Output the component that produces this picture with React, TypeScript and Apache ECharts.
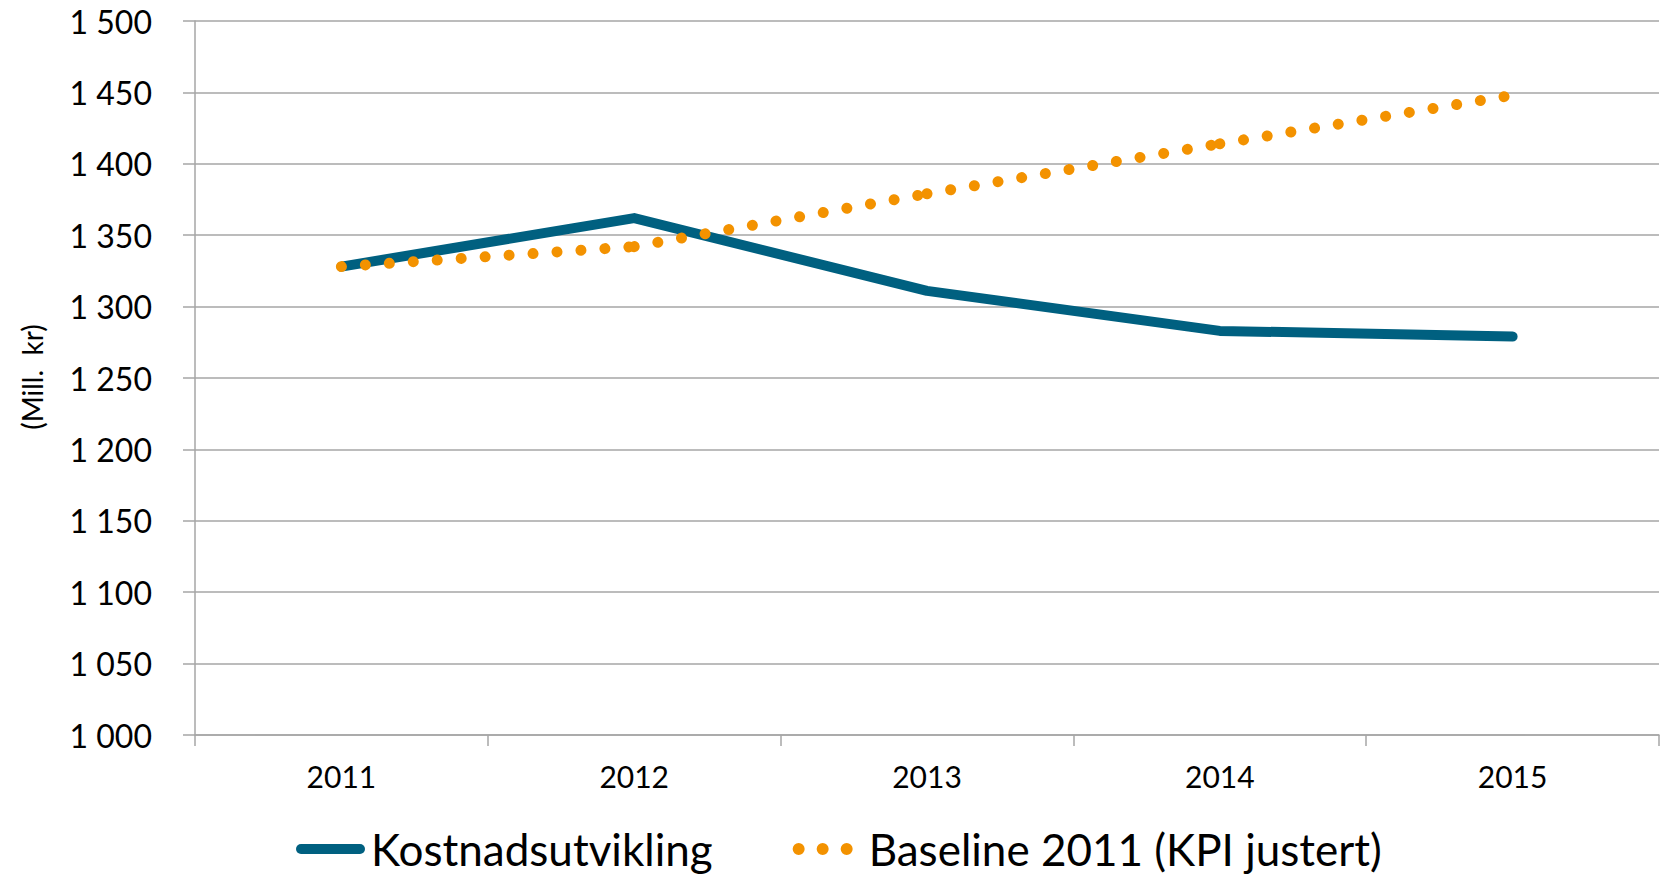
import React, { useEffect, useRef } from "react";
import * as echarts from "echarts";

const years = ["2011", "2012", "2013", "2014", "2015"];
const kostnad = [1328, 1362, 1311, 1283, 1279];
const baseline = [1328, 1342, 1379, 1414, 1448];
const yTicks = { min: 1000, max: 1500, interval: 50 };
const kostnadName = "Kostnadsutvikling";
const baselineName = "Baseline 2011 (KPI justert)";
const yAxisTitle = "(Mill.  kr)";

const FONT = "Lato, 'DejaVu Sans', sans-serif";
const GRID_COLOR = "#a6a6a6";
const TEAL = "#006080";
const ORANGE = "#f39200";

const circle = (cx: number, cy: number, r: number) =>
  `M${cx - r},${cy} A${r},${r} 0 1,0 ${cx + r},${cy} A${r},${r} 0 1,0 ${cx - r},${cy} Z`;
const DOTS_ICON = "path://M0,0 M71,12 " + circle(6, 6, 6) + " " + circle(30, 6, 6) + " " + circle(54, 6, 6);
const BAR_ICON = "path://M0,0 M71,12 M6,1 L65,1 A5,5 0 0,1 65,11 L6,11 A5,5 0 0,1 6,1 Z";

export default function App() {
  const ref = useRef<HTMLDivElement>(null);
  useEffect(() => {
    if (!ref.current) return;
    const chart = echarts.init(ref.current, undefined, { renderer: "svg" });

    const segs: any[] = [];
    for (let i = 0; i < baseline.length - 1; i++) {
      const data = baseline.map((v, j) => (j === i || j === i + 1 ? v : "-"));
      segs.push({
        name: baselineName,
        type: "line",
        data,
        symbol: "none",
        z: 3,
        lineStyle: { color: ORANGE, width: 11, type: [0.01, 24], cap: "round" },
        itemStyle: { color: ORANGE, borderWidth: 0 },
      });
    }

    chart.setOption({
      animation: false,
      grid: { left: 195, right: 6, top: 21, bottom: 142, containLabel: false },
      legend: {
        left: 290,
        top: 822,
        itemWidth: 71,
        itemHeight: 12,
        itemGap: 80,
        data: [
          { name: kostnadName, icon: BAR_ICON, itemStyle: { color: TEAL, borderWidth: 0 } },
          { name: baselineName, icon: DOTS_ICON, itemStyle: { color: ORANGE, borderWidth: 0 } },
        ],
        textStyle: { fontFamily: FONT, fontSize: 44, color: "#000" },
      },
      xAxis: {
        type: "category",
        data: years,
        boundaryGap: true,
        axisLine: { lineStyle: { color: GRID_COLOR, width: 1.5 } },
        axisTick: { show: true, length: 11, alignWithLabel: false, lineStyle: { color: GRID_COLOR, width: 1.5 } },
        axisLabel: { fontFamily: FONT, fontSize: 30, color: "#000", margin: 26 },
      },
      yAxis: {
        type: "value",
        min: yTicks.min,
        max: yTicks.max,
        interval: yTicks.interval,
        axisLine: { show: true, lineStyle: { color: GRID_COLOR, width: 1.5 } },
        axisTick: { show: true, length: 12, lineStyle: { color: GRID_COLOR, width: 1.5 } },
        splitLine: { lineStyle: { color: GRID_COLOR, width: 1.5 } },
        axisLabel: {
          fontFamily: FONT,
          fontSize: 32,
          color: "#000",
          margin: 43,
          formatter: (v: number) => {
            const s = String(v);
            return s.length > 3 ? s.slice(0, s.length - 3) + " " + s.slice(-3) : s;
          },
        },
      },
      graphic: [
        {
          type: "text",
          x: 32,
          y: 377,
          rotation: Math.PI / 2,
          style: {
            text: yAxisTitle,
            fontFamily: FONT,
            fontSize: 28,
            fill: "#000",
            align: "center",
            verticalAlign: "middle",
          },
        },
      ],
      series: [
        {
          name: kostnadName,
          type: "line",
          data: kostnad,
          symbol: "none",
          z: 2,
          lineStyle: { color: TEAL, width: 10, cap: "round", join: "round" },
          itemStyle: { color: TEAL, borderWidth: 0 },
        },
        ...segs,
      ],
    });
    return () => chart.dispose();
  }, []);
  return (
    <div
      ref={ref}
      style={{ position: "fixed", left: 0, top: 0, width: 1665, height: 877, background: "#fff" }}
    />
  );
}
